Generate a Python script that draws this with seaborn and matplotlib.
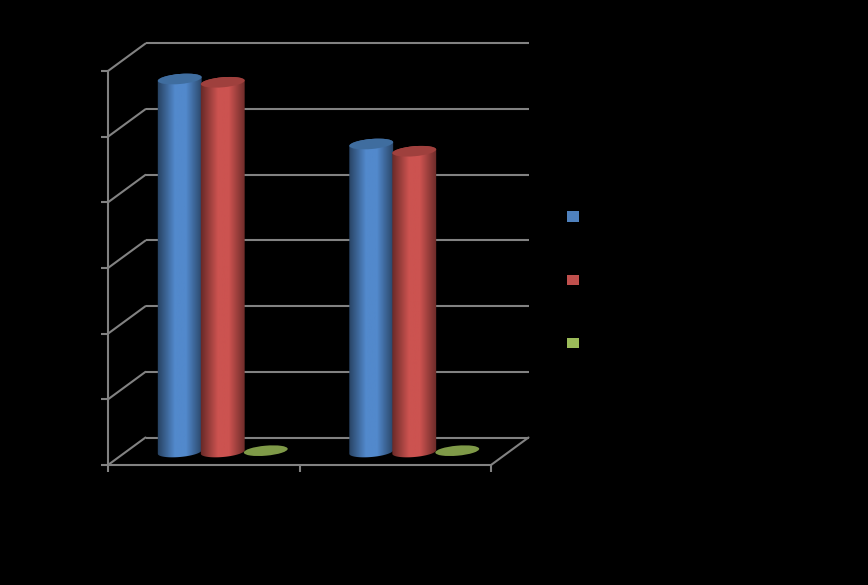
import numpy as np
import pandas as pd
import seaborn as sns
import matplotlib.pyplot as plt
from matplotlib.colors import LinearSegmentedColormap
from matplotlib.patches import Ellipse, Patch
from matplotlib.path import Path
from matplotlib.transforms import Affine2D, IdentityTransform

# the labels are black on black in the picture, so they cannot be read
categories = ["Category 1", "Category 2"]
series_names = ["Series 1", "Series 2", "Series 3"]
series_1 = [5.68, 4.69]
series_2 = [5.63, 4.58]
series_3 = [0.02, 0.02]
value_ticks = [0, 1, 2, 3, 4, 5, 6]

legend_colors = ["#4f81bd", "#c0504d", "#9bbb59"]
body_edge = ["#26405f", "#642826", "#56682f"]
body_mid = ["#5289cc", "#cc5350", "#8fae52"]
cap_colors = ["#3f6d9f", "#9f403d", "#7f9a48"]
grid_color = "#828282"

df = pd.DataFrame({
    "category": categories * 3,
    "series": np.repeat(series_names, 2),
    "value": series_1 + series_2 + series_3,
})

sns.set_theme(style="dark", rc={"figure.facecolor": "black", "axes.facecolor": "none"})

W, H = 868, 585
fig = plt.figure(figsize=(W / 100, H / 100), dpi=100)
ax = fig.add_axes([108 / W, 1 - 465 / H, (491 - 108) / W, (465 - 71) / H])

sns.barplot(data=df, x="category", y="value", hue="series", hue_order=series_names,
            order=categories, palette=legend_colors, width=0.674, gap=0, legend=False, ax=ax)
ax.set_xlim(-0.5, 1.5)
ax.set_ylim(0, 6)
ax.set_yticks(value_ticks)
ax.set_xticks([-0.5, 0.5, 1.5])
ax.set_xticklabels([])
ax.set_yticklabels([])
ax.set_xlabel("")
ax.set_ylabel("")
ax.grid(False)
ax.tick_params(colors=grid_color, length=5, width=1.5, left=True, bottom=True, direction="out")
for name, sp in ax.spines.items():
    sp.set_visible(name in ("left", "bottom"))
    sp.set_color(grid_color)
    sp.set_linewidth(1.5)

# walls of the fake 3d box, depth given in pixels
depth = (37.5, 27.5)
back = ax.transData + Affine2D().translate(*depth)
ax.hlines(value_ticks, -0.5, 1.5, color=grid_color, lw=1.5, transform=back, clip_on=False, zorder=1)
for v in value_ticks:
    x0, y0 = ax.transData.transform((-0.5, v))
    ax.plot([x0, x0 + depth[0]], [y0, y0 + depth[1]], color=grid_color, lw=1.5,
            transform=IdentityTransform(), clip_on=False, zorder=1)
x0, y0 = ax.transData.transform((1.5, 0))
ax.plot([x0, x0 + depth[0]], [y0, y0 + depth[1]], color=grid_color, lw=1.5,
        transform=IdentityTransform(), clip_on=False, zorder=1)

# cylinders: positions come from the bars seaborn made
tilt = np.radians(5)
b = 5.0
bar_shift = (19, 13)
bars = list(ax.patches)
for i, p in enumerate(bars):
    s = i // 2
    (xa, ya), (xb, yb) = ax.transData.transform([(p.get_x(), 0), (p.get_x() + p.get_width(), p.get_height())])
    p.set_visible(False)
    cx = (xa + xb) / 2 + bar_shift[0]
    a = (xb - xa) / 2 + 0.5
    y_base = ya + bar_shift[1]
    y_top = yb + bar_shift[1]

    t_low = np.linspace(np.pi, 2 * np.pi, 40)
    t_up = np.linspace(0, np.pi, 40)
    ex = lambda t: cx + a * np.cos(t) * np.cos(tilt) - b * np.sin(t) * np.sin(tilt)
    ey = lambda t, yc: yc + a * np.cos(t) * np.sin(tilt) + b * np.sin(t) * np.cos(tilt)
    xs = np.r_[ex(t_low), ex(t_up)]
    ys = np.r_[ey(t_low, y_base), ey(t_up, y_top)]
    outline = Path(np.c_[xs, ys])

    if yb - ya > 2:
        cmap = LinearSegmentedColormap.from_list(
            "cyl", [(0, body_edge[s]), (0.38, body_mid[s]), (0.62, body_mid[s]), (1, body_edge[s])])
        im = ax.imshow(np.linspace(0, 1, 64)[None, :], cmap=cmap, aspect="auto",
                       extent=(cx - a - 1, cx + a + 1, y_base - b - 2, y_top + b + 2),
                       transform=IdentityTransform(), zorder=3 + s * 0.1)
        im.set_clip_path(outline, IdentityTransform())
        im.set_clip_box(fig.bbox)
    ax.add_patch(Ellipse((cx, y_top), 2 * a, 2 * b, angle=5, facecolor=cap_colors[s], edgecolor="none",
                         transform=IdentityTransform(), clip_on=False, zorder=3.05 + s * 0.1))

ax.set_xlim(-0.5, 1.5)
ax.set_ylim(0, 6)

handles = [Patch(facecolor=c, edgecolor="none") for c in legend_colors]
fig.legend(handles, ["", "", ""], loc="center left", bbox_to_anchor=(567 / W, 1 - 280.5 / H),
           bbox_transform=fig.transFigure, frameon=False, fontsize=8.64, handlelength=1, handleheight=1,
           labelspacing=4.17, borderpad=0, borderaxespad=0, handletextpad=0.5, labelcolor="black")

fig.savefig("out.png", facecolor="black")
